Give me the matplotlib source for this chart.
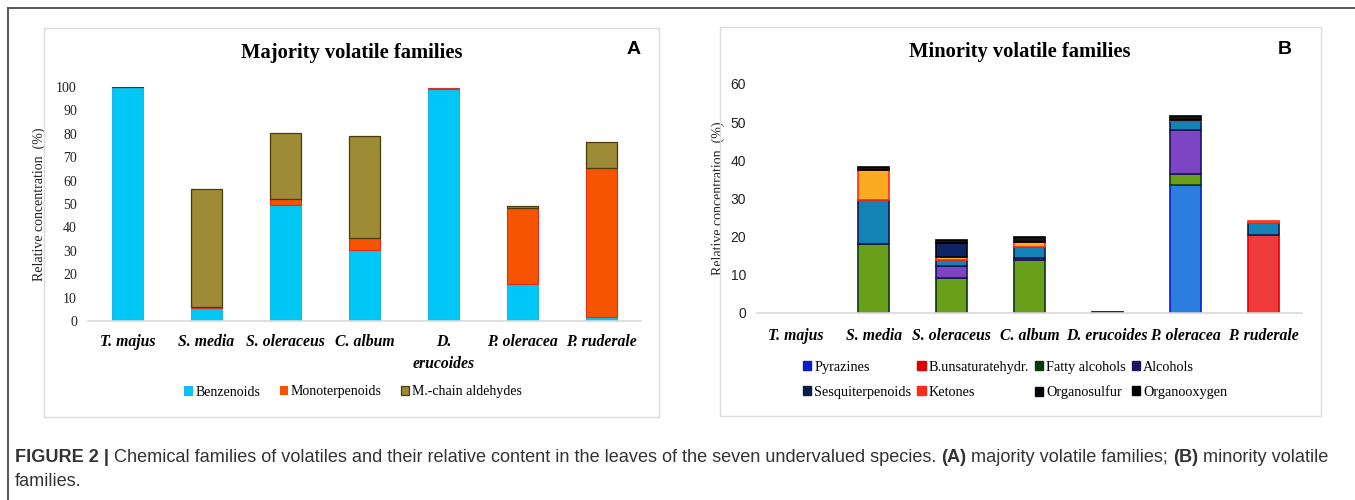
import numpy as np
import matplotlib
matplotlib.use("Agg")
import matplotlib.pyplot as plt
from matplotlib.patches import Patch, Rectangle
from matplotlib.lines import Line2D

W, H = 1355, 500

species_a = ["T. majus", "S. media", "S. oleraceus", "C. album", "D.\nerucoides",
             "P. oleracea", "P. ruderale"]
species_b = ["T. majus", "S. media", "S. oleraceus", "C. album", "D. erucoides",
             "P. oleracea", "P. ruderale"]

# panel A: majority families (%)
benzenoids = [100.0, 5.5, 49.5, 30.5, 99.3, 16.0, 1.5]
monoterpenoids = [0.0, 0.5, 2.7, 5.0, 0.2, 32.5, 64.0]
mchain_aldehydes = [0.3, 50.5, 28.3, 43.5, 0.0, 0.5, 11.0]

# panel B: minority families (%)
pyrazines = [0, 0, 0, 0, 0, 33.5, 0]
b_unsat = [0, 0, 0, 0, 0, 0, 20.5]
fatty_alcohols = [0, 18.0, 9.3, 14.0, 0, 3.0, 0]
alcohols = [0, 0, 3.0, 0.5, 0, 11.5, 0]
sesquiterpenoids = [0, 11.5, 1.7, 2.8, 0, 2.2, 3.2]
ketones = [0, 8.0, 0.6, 1.2, 0, 0.3, 0.3]
organosulfur = [0, 0, 3.7, 0, 0, 0, 0]
organooxygen = [0, 0.8, 0.7, 1.5, 0.3, 1.0, 0]

serif = "Liberation Serif"
sans = "Liberation Sans"


def fx(x):
    return x / W


def fy(y):
    return 1 - y / H


def axes_px(fig, left, top, right, bottom):
    return fig.add_axes([fx(left), fy(bottom), (right - left) / W, (bottom - top) / H])


def style_axes(ax, ymax, step, tickfont):
    ax.set_xlim(-0.5, 6.5)
    ax.set_ylim(0, ymax)
    ax.set_yticks(np.arange(0, ymax + 1, step))
    for s in ["top", "right", "left"]:
        ax.spines[s].set_visible(False)
    ax.spines["bottom"].set_color("#d9d9d9")
    ax.spines["bottom"].set_linewidth(1.2)
    ax.tick_params(axis="both", length=0)
    ax.tick_params(axis="y", pad=8)
    for lab in ax.get_yticklabels():
        lab.set_fontfamily(tickfont)
        lab.set_fontsize(10)
        lab.set_color("#222222")
    ax.patch.set_alpha(0)


def widths(vals, lw):
    # no outline on empty segments
    return [lw if v > 0 else 0 for v in vals]


fig = plt.figure(figsize=(W / 100, H / 100), dpi=100)

# outer figure frame (top and left)
fig.add_artist(Line2D([fx(8), 1], [fy(8), fy(8)], color="#555555", lw=1.4))
fig.add_artist(Line2D([fx(8), fx(8)], [fy(8), 0], color="#555555", lw=1.4))

# panel boxes
for l, t, r, b in [(44, 28, 659, 417), (720, 27, 1321, 416)]:
    fig.add_artist(Rectangle((fx(l), fy(b)), (r - l) / W, (b - t) / H,
                             fill=False, ec="#dcdcdc", lw=1.0))

# ---------------- panel A ----------------
axA = axes_px(fig, 88, 87, 641, 321)
x = np.arange(len(species_a))
bw = 0.4
axA.bar(x, benzenoids, bw, color="#00c8f6", edgecolor="#22b4e8",
        lw=widths(benzenoids, 0.8), label="Benzenoids")
axA.bar(x, monoterpenoids, bw, bottom=benzenoids, color="#f65400",
        edgecolor="#e82a1a", lw=widths(monoterpenoids, 0.8), label="Monoterpenoids")
bot = np.array(benzenoids) + np.array(monoterpenoids)
axA.bar(x, mchain_aldehydes, bw, bottom=bot, color="#9e8b35",
        edgecolor="#4a3b0a", lw=widths(mchain_aldehydes, 0.9),
        label="M.-chain aldehydes")
style_axes(axA, 100, 10, serif)
axA.set_xticks(x)
axA.set_xticklabels(species_a, fontfamily=serif, fontsize=11.3,
                    fontweight="bold", fontstyle="italic", linespacing=1.5)
axA.tick_params(axis="x", pad=9)
axA.set_ylabel("Relative concentration  (%)", fontfamily=serif, fontsize=10,
               color="#222222", labelpad=7)
fig.text(fx(352), fy(53), "Majority volatile families", ha="center", va="center",
         fontfamily=serif, fontsize=14.8, fontweight="bold")
fig.text(fx(634), fy(50), "A", ha="center", va="center", fontfamily=sans,
         fontsize=14, fontweight="bold")
hA, lA = axA.get_legend_handles_labels()
fig.legend(hA, lA, loc="center", bbox_to_anchor=(fx(353), fy(392)), ncol=3,
           frameon=False, prop={"family": serif, "size": 10},
           handlelength=0.6, handleheight=0.6, handletextpad=0.2,
           columnspacing=1.4)

# ---------------- panel B ----------------
axB = axes_px(fig, 757, 84, 1302, 313)
series_b = [
    ("Pyrazines", pyrazines, "#2b7de0", "#0a1ec8"),
    ("B.unsaturatehydr.", b_unsat, "#ee3b3b", "#e40000"),
    ("Fatty alcohols", fatty_alcohols, "#6a9f1c", "#0c3a0c"),
    ("Alcohols", alcohols, "#7d45c4", "#1a1460"),
    ("Sesquiterpenoids", sesquiterpenoids, "#1582b6", "#0d1a50"),
    ("Ketones", ketones, "#fbab22", "#ff2a1a"),
    ("Organosulfur", organosulfur, "#0f2466", "#050510"),
    ("Organooxygen", organooxygen, "#141414", "#000000"),
]
bottom = np.zeros(len(species_b))
for name, vals, fc, ec in series_b:
    axB.bar(x, vals, bw, bottom=bottom, color=fc, edgecolor=ec,
            lw=widths(vals, 1.2))
    bottom += np.array(vals)
style_axes(axB, 60, 10, sans)
axB.set_xticks(x)
axB.set_xticklabels(species_b, fontfamily=serif, fontsize=11.3,
                    fontweight="bold", fontstyle="italic")
axB.tick_params(axis="x", pad=11)
axB.set_ylabel("Relative concentration  (%)", fontfamily=serif, fontsize=10,
               color="#222222", labelpad=4)
fig.text(fx(1020), fy(52), "Minority volatile families", ha="center", va="center",
         fontfamily=serif, fontsize=14.8, fontweight="bold")
fig.text(fx(1285), fy(50), "B", ha="center", va="center", fontfamily=sans,
         fontsize=14, fontweight="bold")

# legend swatches show the edge colours; reorder so rows read left to right
handles = [Patch(facecolor=ec, edgecolor=ec) for _, _, _, ec in series_b]
names = [s[0] for s in series_b]
order = [0, 4, 1, 5, 2, 6, 3, 7]
fig.legend([handles[i] for i in order], [names[i] for i in order], loc="center",
           bbox_to_anchor=(fx(1015), fy(380)), ncol=4, frameon=False,
           prop={"family": serif, "size": 10.3}, handlelength=0.6,
           handleheight=0.6, handletextpad=0.2, columnspacing=0.4,
           labelspacing=0.85)

# ---------------- caption ----------------
fig.canvas.draw()
renderer = fig.canvas.get_renderer()
cap_parts = [
    ("FIGURE 2 | ", "bold"),
    ("Chemical families of volatiles and their relative content in the leaves of the "
     "seven undervalued species. ", "normal"),
    ("(A)", "bold"),
    (" majority volatile families; ", "normal"),
    ("(B)", "bold"),
    (" minority volatile", "normal"),
]
cx = 15
for txt, wt in cap_parts:
    t = fig.text(fx(cx), fy(457), txt, ha="left", va="center", fontfamily=sans,
                 fontsize=13.1, fontweight=wt, color="#333333")
    cx += t.get_window_extent(renderer).width
fig.text(fx(15), fy(481), "families.", ha="left", va="center", fontfamily=sans,
         fontsize=13.1, color="#333333")

fig.savefig("out.png", dpi=100)
